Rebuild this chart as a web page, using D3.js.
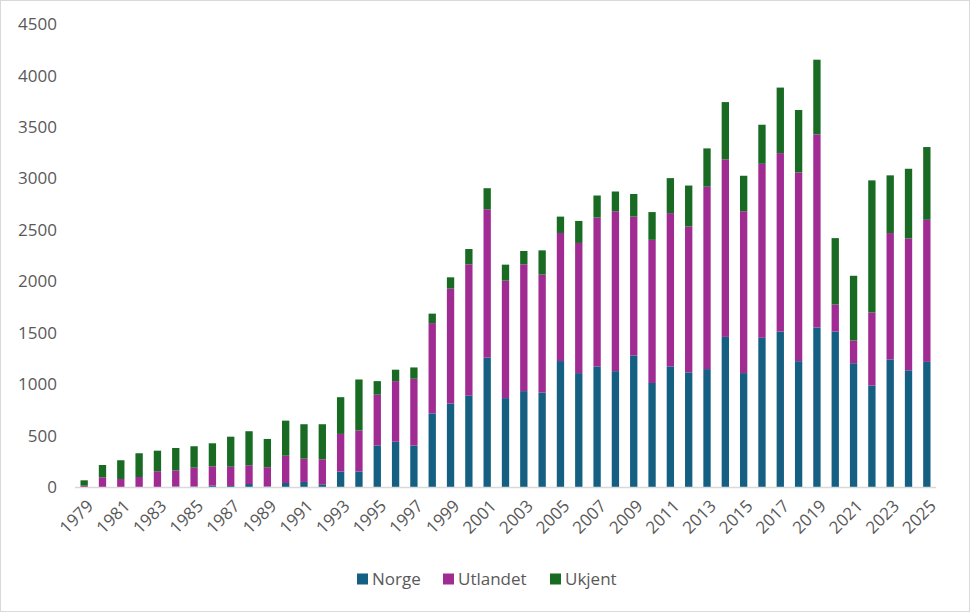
<!DOCTYPE html>
<html>
<head>
<meta charset="utf-8">
<script src="https://cdn.jsdelivr.net/npm/d3@7.9.0/dist/d3.min.js"></script>
<style>
  body { margin: 0; background: #fff; }
  svg { display: block; font-family: "Open Sans", "Liberation Sans", sans-serif; }
</style>
</head>
<body>
<svg id="chart" width="970" height="612"></svg>
<script>
// years 1979-2025
const years = d3.range(1979, 2026).map(String);

// Norge (bottom segment)
const norge = [0, 0, 0, 0, 0, 5, 5, 13, 10, 29, 5, 39, 49, 26, 150,
  151, 404, 440, 404, 715, 812, 887, 1257, 864, 932, 919, 1224, 1107, 1172, 1126,
  1279, 1011, 1172, 1114, 1146, 1459, 1107, 1450, 1511, 1223, 1550, 1511, 1203, 986, 1240, 1134, 1216];
// Utlandet (middle segment)
const utlandet = [13, 94, 78, 97, 153, 157, 183, 188, 187, 182, 187, 265, 226, 243, 366,
  398, 493, 589, 648, 878, 1116, 1277, 1442, 1142, 1232, 1145, 1245, 1265, 1447, 1554,
  1349, 1391, 1490, 1418, 1773, 1725, 1573, 1691, 1734, 1834, 1877, 262, 221, 710, 1228, 1282, 1381];
// Ukjent (top segment)
const ukjent = [52, 120, 182, 231, 200, 217, 208, 224, 292, 331, 275, 341, 335, 341, 357,
  496, 132, 111, 110, 92, 110, 149, 205, 155, 130, 236, 159, 214, 214, 192,
  220, 270, 340, 398, 372, 557, 345, 380, 637, 607, 726, 646, 629, 1284, 561, 677, 707];

const seriesNames = ['Norge', 'Utlandet', 'Ukjent'];
const colors = ['#156082', '#A02B93', '#196B24'];
const yTicks = [0, 500, 1000, 1500, 2000, 2500, 3000, 3500, 4000, 4500];

const rows = years.map((y, i) => ({ year: y, Norge: norge[i], Utlandet: utlandet[i], Ukjent: ukjent[i] }));
const stacked = d3.stack().keys(seriesNames)(rows);

const svg = d3.select('#chart');
const W = 970, H = 612;

// outer border like the chart frame
svg.append('rect')
  .attr('x', 0.5).attr('y', 0.5)
  .attr('width', W - 1).attr('height', H - 1)
  .attr('fill', '#fff').attr('stroke', '#d9d9d9');

const x = d3.scaleBand().domain(years).range([75, 936]).paddingInner(0.6).paddingOuter(0.3);
const y = d3.scaleLinear().domain([0, 4500]).range([487, 24]);

// y axis labels (no gridlines)
svg.append('g')
  .selectAll('text')
  .data(yTicks)
  .join('text')
  .attr('x', 57)
  .attr('y', d => y(d))
  .attr('dy', '0.36em')
  .attr('text-anchor', 'end')
  .attr('font-size', 17)
  .attr('fill', '#595959')
  .text(d => d);

// bars
svg.append('g')
  .selectAll('g')
  .data(stacked)
  .join('g')
  .attr('fill', (d, i) => colors[i])
  .selectAll('rect')
  .data(d => d)
  .join('rect')
  .attr('x', d => x(d.data.year))
  .attr('y', d => y(d[1]))
  .attr('width', x.bandwidth())
  .attr('height', d => y(d[0]) - y(d[1]));

// baseline
svg.append('line')
  .attr('x1', 75).attr('x2', 936)
  .attr('y1', y(0) + 0.5).attr('y2', y(0) + 0.5)
  .attr('stroke', '#d9d9d9').attr('stroke-width', 1.5);

// x labels, every second year, rotated
svg.append('g')
  .selectAll('text')
  .data(years.filter((d, i) => i % 2 === 0))
  .join('text')
  .attr('transform', d => `translate(${x(d) + x.bandwidth() / 2 + 6},${y(0) + 16}) rotate(-45)`)
  .attr('text-anchor', 'end')
  .attr('dy', '0.35em')
  .attr('font-size', 17)
  .attr('fill', '#595959')
  .text(d => d);

// legend
const legendItems = [
  { name: 'Norge', color: colors[0], x: 357 },
  { name: 'Utlandet', color: colors[1], x: 443 },
  { name: 'Ukjent', color: colors[2], x: 550 }
];
const lg = svg.append('g').selectAll('g').data(legendItems).join('g')
  .attr('transform', d => `translate(${d.x},579)`);
lg.append('rect')
  .attr('x', 0).attr('y', -5.5).attr('width', 11).attr('height', 11)
  .attr('fill', d => d.color);
lg.append('text')
  .attr('x', 15).attr('dy', '0.35em')
  .attr('font-size', 17)
  .attr('fill', '#595959')
  .text(d => d.name);
</script>
</body>
</html>
